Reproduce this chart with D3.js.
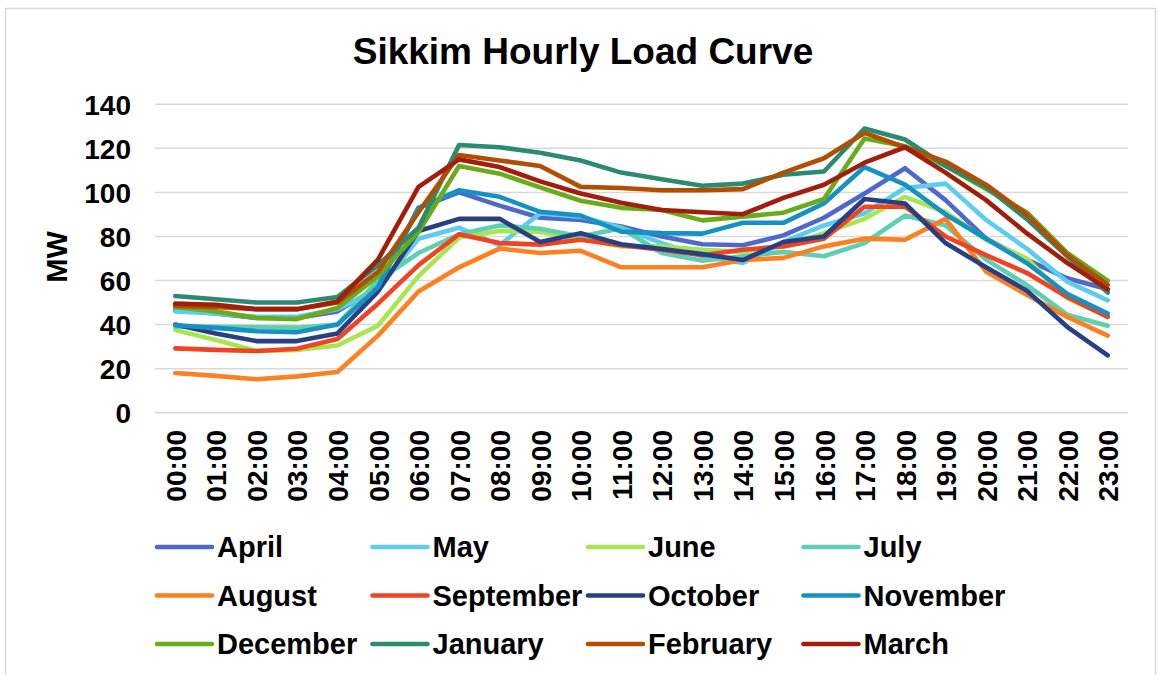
<!DOCTYPE html>
<html>
<head>
<meta charset="utf-8">
<script src="https://cdn.jsdelivr.net/npm/d3@7"></script>
<style>
html,body{margin:0;padding:0;background:#fff;}
svg text{font-family:"Liberation Sans",Arial,sans-serif;font-weight:bold;fill:#000;}
</style>
</head>
<body>
<svg id="chart" width="1158" height="675"></svg>
<script>
const hours = ["00:00","01:00","02:00","03:00","04:00","05:00","06:00","07:00","08:00","09:00","10:00","11:00",
               "12:00","13:00","14:00","15:00","16:00","17:00","18:00","19:00","20:00","21:00","22:00","23:00"];
const yTicks = [0,20,40,60,80,100,120,140];

const april     = [47,45,43,43,46,57,93,100,94,88.5,87.5,84.5,80,76.5,76,80.5,88.5,99.5,111,96.5,79,69.5,61,56];
const may       = [46,45,43.5,43.5,47,56,79,84,76,90.5,89,84,77,71,68,77.5,85,90.5,102,104,87.5,74.5,59.5,51];
const june      = [37.5,33,28,28.5,30.5,39.5,62,79.5,82.5,82,79,75.5,75.5,74,73,76,81.5,88,98,91,78.5,70,52,43.5];
const july      = [39,39,38.8,38.6,40,60,72.5,81,85,83.5,80,83.7,72.5,69,71,73,71,77,89.5,85,69.5,58,44.5,39.5];
const august    = [18,16.7,15.2,16.5,18.5,35,55,66,74.5,72.5,73.5,66,66,66,69.3,70.3,75.5,79,78.5,88,64,53.5,43.5,35];
const september = [29.2,28.5,28,29,33.5,49.5,67,81,77,76.3,78.5,76,74,71.5,74,75.5,79,93.5,93.5,80,71.5,63.5,52.5,43.5];
const october   = [40,36,32.5,32.5,36,55,82.5,88,88,77.5,81.5,76.5,74.3,72,69.3,77.5,80,97,95,77,66,55.5,39,26];
const november  = [39.7,38.5,37,36.5,40,57,93,101,98,91.2,89.5,82.2,81.5,81.3,86.2,86.2,95,111.5,103.5,90,79,68,54,45];
const december  = [48,46,43,42.5,47.5,62,82,112,108.5,102.3,96.2,93,92,87.3,89,90.8,97,124.5,121,112,101.5,91,72.5,60];
const january   = [53,51.5,50,50,52.5,67,84,121.5,120.5,118,114.5,109,106,103,104,108,109.5,129,124,112,102.5,88,71,54.5];
const february  = [48.5,48,47,47,50,64,91,117,114.5,112,102.5,102,101,101,101.5,109,115.5,127,120.5,114,103.5,90,71.5,58];
const march     = [49.5,49,47,47,50.5,69.5,102.5,115,111.5,105,99.5,95.3,92,91,90.1,97.5,103.5,113.5,120.5,109,96.5,81.5,68,56];

const seriesNames = ["April","May","June","July","August","September","October","November","December","January","February","March"];
const seriesValues = [april,may,june,july,august,september,october,november,december,january,february,march];
const seriesColors = ["#4f68c9","#5ecbf1","#a7e553","#5fcfb1","#fd8023","#ee4424","#283f82","#1592c3","#6aab1c","#2b8a70","#b04e02","#a01e0b"];

const svg = d3.select("#chart");

// chart border
svg.append("rect").attr("x",5.5).attr("y",8.5).attr("width",1150).attr("height",672)
  .attr("fill","none").attr("stroke","#d9d9d9").attr("stroke-width",1.5);

// title
svg.append("text").attr("x",583).attr("y",64).attr("text-anchor","middle")
  .style("font-size","37px").text("Sikkim Hourly Load Curve");

const x = d3.scalePoint().domain(hours).range([155,1128]).padding(0.5);
const y = d3.scaleLinear().domain([0,140]).range([412.7,104.3]);

// gridlines
svg.append("g").selectAll("line").data(yTicks).join("line")
  .attr("x1",155).attr("x2",1128)
  .attr("y1",d=>y(d)).attr("y2",d=>y(d))
  .attr("stroke","#d9d9d9").attr("stroke-width",1.5);

// y axis labels
const yAxis = d3.axisLeft(y).tickValues(yTicks).tickSize(0).tickPadding(0);
const gy = svg.append("g").attr("transform","translate(131,0)").call(yAxis);
gy.select(".domain").remove();
gy.selectAll("text").style("font-size","28px").attr("dy","0.36em")
  .style("font-family","'Liberation Sans',Arial,sans-serif").style("font-weight","bold").attr("fill","#000");

// y axis title
svg.append("text").attr("transform","translate(57,257) rotate(-90)")
  .attr("text-anchor","middle").attr("dominant-baseline","central")
  .style("font-size","29px").text("MW");

// x axis labels
const xAxis = d3.axisBottom(x).tickSize(0).tickPadding(0);
const gx = svg.append("g").attr("transform","translate(0,430)").call(xAxis);
gx.select(".domain").remove();
gx.selectAll("text")
  .attr("transform","rotate(-90)")
  .attr("x",0).attr("y",0).attr("dy","0.36em")
  .attr("text-anchor","end")
  .style("font-size","28px")
  .style("font-family","'Liberation Sans',Arial,sans-serif").style("font-weight","bold").attr("fill","#000");

// lines
const line = d3.line().x((d,i)=>x(hours[i])).y(d=>y(d));
svg.append("g").selectAll("path").data(seriesValues).join("path")
  .attr("d",d=>line(d))
  .attr("fill","none")
  .attr("stroke",(d,i)=>seriesColors[i])
  .attr("stroke-width",4.6)
  .attr("stroke-linejoin","round")
  .attr("stroke-linecap","round");

// legend
const legend = svg.append("g");
seriesNames.forEach((name,i)=>{
  const col = i % 4, row = Math.floor(i/4);
  const lx = 157 + col*215.5, ly = 547 + row*48.5;
  legend.append("line").attr("x1",lx).attr("x2",lx+55).attr("y1",ly).attr("y2",ly)
    .attr("stroke",seriesColors[i]).attr("stroke-width",4.6).attr("stroke-linecap","round");
  legend.append("text").attr("x",lx+60).attr("y",ly).attr("dy","0.36em")
    .style("font-size","29px").text(name);
});
</script>
</body>
</html>
